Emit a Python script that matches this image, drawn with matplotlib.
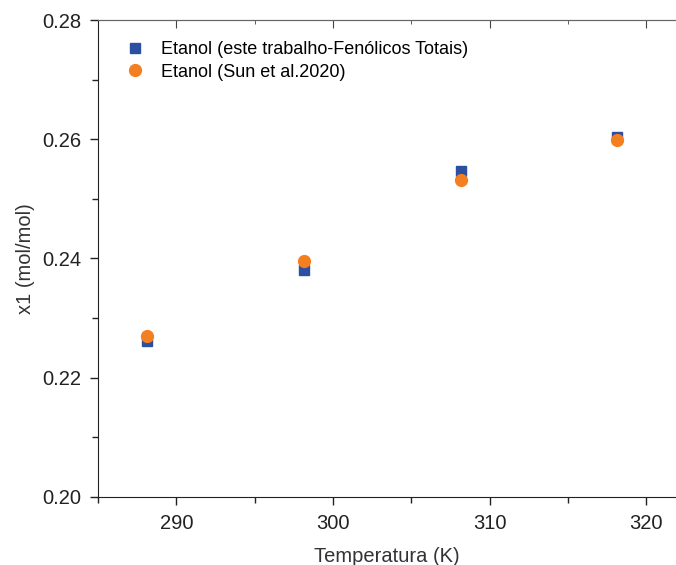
import matplotlib.pyplot as plt
from matplotlib.ticker import MultipleLocator

plt.rcParams['font.family'] = ['Liberation Sans', 'DejaVu Sans']

# solubility of phenolics in ethanol vs temperature
temperatura = [288.15, 298.15, 308.15, 318.15]
x1_este_trabalho = [0.2261, 0.2380, 0.2547, 0.2603]
x1_sun_2020 = [0.2270, 0.2396, 0.2531, 0.2598]

fig = plt.figure(figsize=(6.76, 5.65), dpi=100)
ax = fig.add_axes([0.145, 0.1204, 0.855, 0.8442])

ax.plot(temperatura, x1_este_trabalho, 's', color='#2B4FA3', markersize=7.5,
        label='Etanol (este trabalho-Fenólicos Totais)')
ax.plot(temperatura, x1_sun_2020, 'o', color='#F47F20', markersize=8.5,
        label='Etanol (Sun et al.2020)')

ax.set_xlim(285, 321.9)
ax.set_ylim(0.20, 0.28)
ax.xaxis.set_major_locator(MultipleLocator(10))
ax.xaxis.set_minor_locator(MultipleLocator(5))
ax.yaxis.set_major_locator(MultipleLocator(0.02))
ax.yaxis.set_minor_locator(MultipleLocator(0.01))
ax.yaxis.set_major_formatter(plt.FormatStrFormatter('%.2f'))

ax.tick_params(which='both', direction='out', top=False, right=False,
               labelsize=14.5, colors='#222222', pad=6)
ax.tick_params(which='major', length=6, width=1)
ax.tick_params(which='minor', length=4, width=1)
ax.spines['right'].set_visible(False)
for s in ['left', 'bottom']:
    ax.spines[s].set_color('#222222')
ax.spines['top'].set_color('#666666')

# mirrored ticks on top, pointing inward
sec = ax.secondary_xaxis('top')
sec.xaxis.set_major_locator(MultipleLocator(10))
sec.xaxis.set_minor_locator(MultipleLocator(5))
sec.tick_params(which='both', direction='in', labeltop=False, colors='#444444')
sec.tick_params(which='major', length=6)
sec.tick_params(which='minor', length=3)
sec.spines['top'].set_color('#666666')

ax.set_xlabel('Temperatura (K)', fontsize=14.5, color='#333333', labelpad=10)
ax.set_ylabel('x1 (mol/mol)', fontsize=14.5, color='#333333', labelpad=5)

ax.legend(loc='upper left', bbox_to_anchor=(0.002, 0.993), frameon=False,
          fontsize=13, handletextpad=0.45, labelspacing=0.3, borderaxespad=0.6)

fig.savefig('out.png', dpi=100)
